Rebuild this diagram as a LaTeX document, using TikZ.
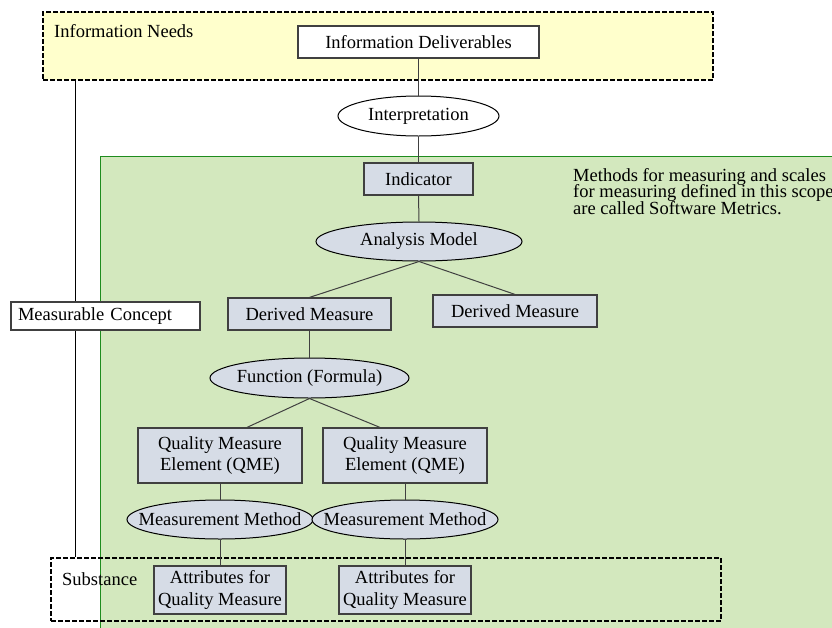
\documentclass[tikz,border=0pt]{standalone}
\usepackage{fontspec}
\setmainfont{Liberation Serif}
\usetikzlibrary{shapes.geometric}
\definecolor{needsyellow}{HTML}{FFFFCC}
\definecolor{scopegreen}{HTML}{D3E8BE}
\definecolor{scopeline}{HTML}{1E8C1E}
\definecolor{measfill}{HTML}{D6DCE6}
\def\otext#1{\makebox[0pt]{#1}}
\def\tightlines{\fontsize{18.5}{16.4}\selectfont\lineskiplimit -20pt\relax}

\begin{document}
\begin{tikzpicture}[x=1pt,y=-1pt,
	every node/.style={font=\fontsize{18.5}{21.5}\selectfont, inner sep=0pt},
	box/.style={draw=black!75, line width=1.2pt, fill=measfill, align=center},
	wbox/.style={box, fill=white},
	oval/.style={ellipse, draw=black, line width=1pt, fill=measfill},
	dashbox/.style={draw=black, line width=2pt, dash pattern=on 5pt off 2pt},
	link/.style={draw=black!75, line width=1pt}]

	\clip (0,0) rectangle (832,627);

	% scope of software metrics
	\fill[scopegreen] (100,156) rectangle (840,640);
	\draw[scopeline, line width=1pt] (100,640) -- (100,156) -- (840,156);
	\node[anchor=base west, align=left, font=\tightlines] (metrics) at (573,214)
		{Methods for measuring and scales\\for measuring defined in this scope\\are called Software Metrics.};

	\node[dashbox, fill=needsyellow, minimum width=670pt, minimum height=68pt] (needs) at (378,46) {};
	\node[anchor=base west] (needslbl) at (54,37) {Information Needs};
	\node[dashbox, minimum width=670pt, minimum height=63pt] (subst) at (386,589.5) {};
	\node[anchor=base west] (substlbl) at (62,585) {Substance};

	\node[wbox, minimum width=241pt, minimum height=32pt] (deliv) at (418.5,42) {Information Deliverables};
	\node[oval, fill=white, minimum width=161pt, minimum height=40pt] (interp) at (418.5,116) {\otext{Interpretation}};
	\node[box, minimum width=109pt, minimum height=32pt] (ind) at (418.5,179) {Indicator};
	\node[oval, minimum width=206pt, minimum height=39pt] (anal) at (419,241.5) {\otext{Analysis Model}};
	\node[box, minimum width=163pt, minimum height=32pt] (dmA) at (309.5,314) {Derived Measure};
	\node[box, minimum width=164pt, minimum height=32pt] (dmB) at (515,311) {Derived Measure};
	\node[oval, minimum width=199pt, minimum height=40pt] (func) at (309.5,378) {\otext{Function (Formula)}};

	\foreach \n/\x in {A/220,B/405} {
		\node[box, minimum width=164pt, minimum height=55pt] (qme\n) at (\x,455.5) {Quality Measure\\Element (QME)};
		\node[oval, minimum width=186pt, minimum height=39pt] (mm\n) at (\x,519.5) {\otext{Measurement Method}};
		\node[box, minimum width=132pt, minimum height=48pt] (attr\n) at (\x,590) {Attributes for\\Quality Measure};
		\draw[link] (qme\n.south) -- (mm\n.north);
		\draw[link] (mm\n.south) -- (attr\n.north);
	}

	\draw[link] (deliv.south) -- (interp.north);
	\draw[link] (interp.south) -- (ind.north);
	\draw[link] (ind.south) -- (anal.north);
	\draw[link] (anal.south) -- (dmA.north);
	\draw[link] (anal.south) -- (dmB.north);
	\draw[link] (dmA.south) -- (func.north);
	\draw[link] (func.south) -- ([xshift=27pt]qmeA.north);
	\draw[link] (func.south) -- ([xshift=-25pt]qmeB.north);

	% measurable concept
	\draw[link, draw=black] ([xshift=33pt]needs.south west) -- ([xshift=25pt]subst.north west);
	\node[wbox, text width=175pt, align=left, inner xsep=7pt, minimum height=28pt] (concept) at (105.5,316) {Measurable Concept};
\end{tikzpicture}
\end{document}
